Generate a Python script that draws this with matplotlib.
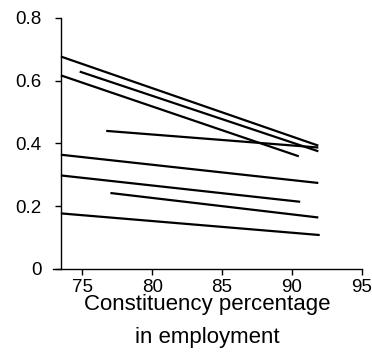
import matplotlib
matplotlib.use("Agg")
import matplotlib.pyplot as plt

plt.rcParams['font.family'] = ['Liberation Sans', 'DejaVu Sans']

# Start and end of each constituency line: employment % (x) and value (y)
x_start = [73.45, 74.8, 73.45, 76.7, 73.45, 73.45, 77.0, 73.45]
y_start = [0.677, 0.629, 0.617, 0.440, 0.364, 0.298, 0.242, 0.177]
x_end = [91.9, 91.9, 90.5, 91.9, 91.9, 90.6, 91.9, 92.0]
y_end = [0.393, 0.375, 0.359, 0.387, 0.274, 0.214, 0.164, 0.108]

x_ticks = [75, 80, 85, 90, 95]
y_ticks = [0, 0.2, 0.4, 0.6, 0.8]
y_ticklabels = ["0", "0.2", "0.4", "0.6", "0.8"]
x_label = "Constituency percentage\nin employment"

fig = plt.figure(figsize=(3.72, 3.52), dpi=100)
ax = fig.add_axes([0.143, 0.236, 0.829, 0.713])

for xs, ys, xe, ye in zip(x_start, y_start, x_end, y_end):
    ax.plot([xs, xe], [ys, ye], color="black", lw=1.6, solid_capstyle="butt")

ax.set_xlim(72.9, 95)
ax.set_ylim(0, 0.8)
ax.spines['left'].set_position(('data', 73.45))
ax.spines['right'].set_visible(False)
ax.spines['top'].set_visible(False)
for s in ('left', 'bottom'):
    ax.spines[s].set_linewidth(1.0)

ax.set_xticks(x_ticks)
ax.set_yticks(y_ticks)
ax.set_yticklabels(y_ticklabels)
ax.tick_params(axis='both', direction='out', length=4, width=1.0,
               labelsize=13.5, pad=3)
ax.tick_params(axis='y', pad=10)
ax.set_xlabel(x_label, fontsize=16, labelpad=-1, linespacing=1.75)

fig.savefig("out.png", dpi=100, facecolor="white")
